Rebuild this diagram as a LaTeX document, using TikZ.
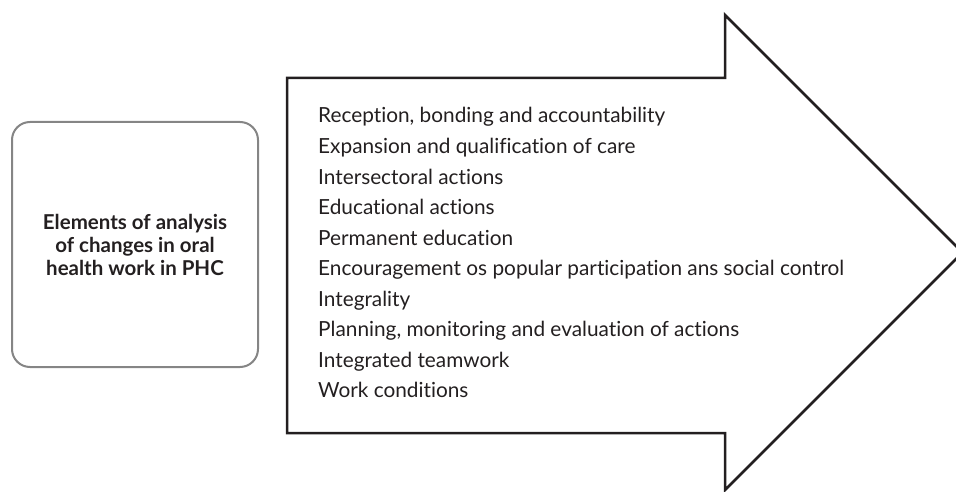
\documentclass[tikz,border=0pt]{standalone}
\usepackage{fontspec}
\setmainfont{Lato}[Ligatures=NoCommon]
\usetikzlibrary{positioning}
\definecolor{boxgray}{HTML}{858585}
\definecolor{inkdark}{HTML}{231F20}

\begin{document}
\begin{tikzpicture}[x=1pt, y=-1pt,
    every node/.style={text=inkdark},
    theme/.style={draw=boxgray, line width=2pt, rounded corners=18pt, minimum width=246pt, minimum height=245pt, align=center, font=\fontsize{20.5}{23}\selectfont\bfseries},
    bigarrow/.style={draw=inkdark, line width=2.5pt, line join=miter},
    item/.style={anchor=base west, inner sep=0pt, font=\fontsize{20.8}{23}\selectfont}]
\clip (0,0) rectangle (956,492);
\node[theme] (elements) at (135,244.5) {Elements of analysis\\of changes in oral\\health work in PHC};
% the big arrow
\coordinate (bodytl) at (287,78);
\coordinate (headtop) at (725,15);
\coordinate (tip) at (962.5,252.5);
\coordinate (headbot) at (725,490);
\coordinate (bodybl) at (287,433);
\draw[bigarrow] (bodytl) -- (headtop |- bodytl) -- (headtop) -- (tip) -- (headbot)
    -- (headbot |- bodybl) -- (bodybl) -- cycle;
\foreach \txt [count=\i from 0] in {{Reception, bonding and accountability},
    Expansion and qualification of care, Intersectoral actions, Educational actions,
    Permanent education, Encouragement os popular participation ans social control,
    Integrality, {Planning, monitoring and evaluation of actions},
    Integrated teamwork, Work conditions}
  \node[item] (item\i) at (318,123+30.5*\i) {\txt};
\end{tikzpicture}
\end{document}
